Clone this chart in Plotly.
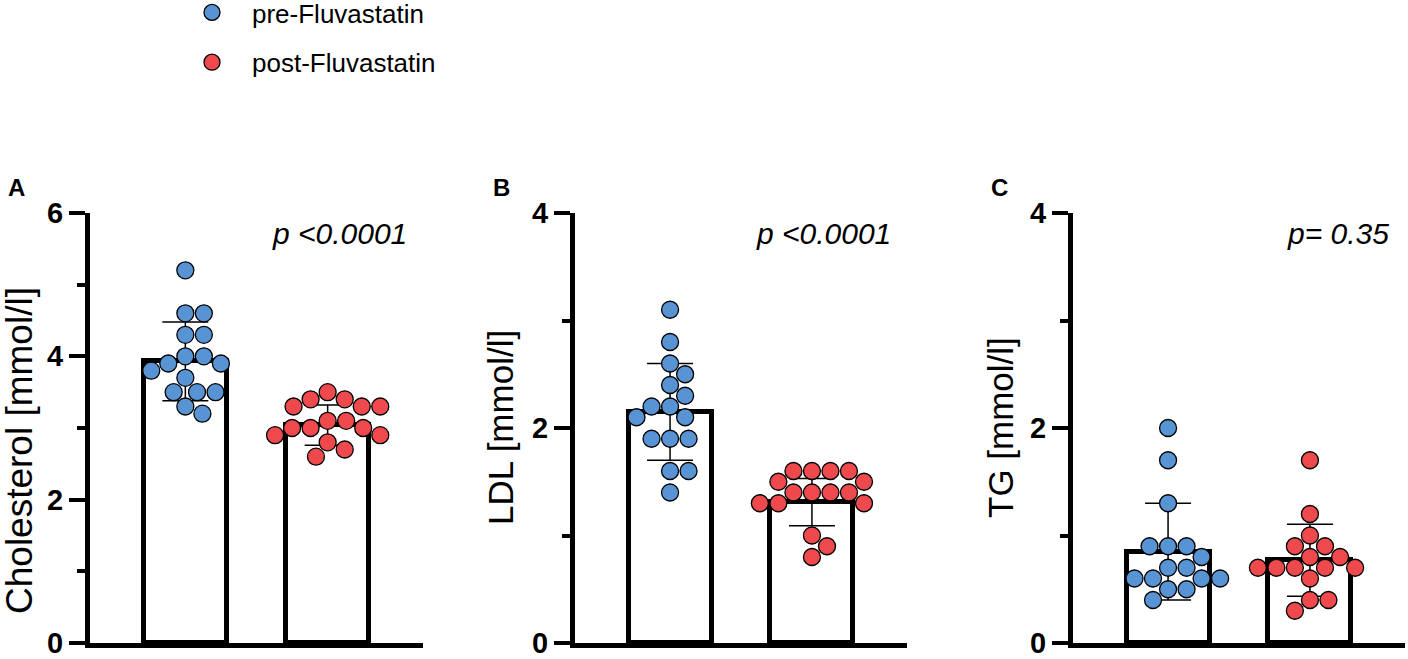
import plotly.graph_objects as go

# Values (mmol/l), 16 subjects per group
groups = ['pre-Fluvastatin', 'post-Fluvastatin']

chol_pre = [5.2, 4.6, 4.6, 4.3, 4.3, 4.0, 4.0, 3.9, 3.9, 3.8, 3.7, 3.5, 3.5, 3.5, 3.3, 3.2]
chol_post = [3.5, 3.4, 3.4, 3.3, 3.3, 3.3, 3.1, 3.1, 3.0, 3.0, 3.0, 2.9, 2.9, 2.8, 2.7, 2.6]
ldl_pre = [3.1, 2.8, 2.6, 2.5, 2.4, 2.3, 2.2, 2.2, 2.1, 2.1, 1.9, 1.9, 1.9, 1.6, 1.6, 1.4]
ldl_post = [1.6, 1.6, 1.6, 1.6, 1.5, 1.5, 1.4, 1.4, 1.4, 1.4, 1.3, 1.3, 1.3, 1.0, 0.9, 0.8]
tg_pre = [2.0, 1.7, 1.3, 0.9, 0.9, 0.9, 0.8, 0.7, 0.7, 0.6, 0.6, 0.6, 0.6, 0.5, 0.5, 0.4]
tg_post = [1.7, 1.2, 1.0, 0.9, 0.9, 0.8, 0.8, 0.7, 0.7, 0.7, 0.7, 0.7, 0.6, 0.4, 0.4, 0.3]

# bar heights (mean) and error bars (SD) as drawn
chol_mean = [3.93, 3.04]
chol_sd = [0.55, 0.28]
ldl_mean = [2.15, 1.31]
ldl_sd = [0.45, 0.22]
tg_mean = [0.85, 0.77]
tg_sd = [0.45, 0.335]

panel_letters = ['A', 'B', 'C']
y_titles = ['Cholesterol [mmol/l]', 'LDL [mmol/l]', 'TG [mmol/l]']
y_max = [6, 4, 4]
p_texts = ['p <0.0001', 'p <0.0001', 'p= 0.35']

W, H = 1408, 659
BLUE = '#5893D3'
RED = '#EE4A4E'
FONT = 'Liberation Sans, Arial, sans-serif'

x_domains = [[90 / W, 423 / W], [575 / W, 907 / W], [1073 / W, 1405 / W]]
y_domain = [(H - 643) / H, (H - 213) / H]
x_range = [-0.67, 1.67]
DIAM = 18.5


def swarm(values, px_per_y, px_per_x, diam=DIAM):
    """Simple beeswarm: put each point as close to the centre as it fits"""
    placed = []
    offsets = []
    for v in values:
        y = v * px_per_y
        cands = [0.0]
        for px, py in placed:
            dy = y - py
            if abs(dy) < diam:
                dx = (diam ** 2 - dy ** 2) ** 0.5
                cands += [px + dx, px - dx]
        cands.sort(key=abs)
        pick = 0.0
        for c in cands:
            if all((c - px) ** 2 + (y - py) ** 2 >= diam ** 2 - 1e-6 for px, py in placed):
                pick = c
                break
        placed.append((pick, y))
        offsets.append(pick / px_per_x)
    return offsets


panels = [
    (chol_pre, chol_post, chol_mean, chol_sd),
    (ldl_pre, ldl_post, ldl_mean, ldl_sd),
    (tg_pre, tg_post, tg_mean, tg_sd),
]

fig = go.Figure()
layout = {}
annotations = []

for i, (pre, post, means, sds) in enumerate(panels):
    sfx = '' if i == 0 else str(i + 1)
    xa, ya = 'x' + sfx, 'y' + sfx
    dom = x_domains[i]
    px_per_x = (dom[1] - dom[0]) * W / (x_range[1] - x_range[0])
    px_per_y = (y_domain[1] - y_domain[0]) * H / y_max[i]

    fig.add_trace(go.Bar(
        x=[0, 1], y=means, width=0.585,
        marker=dict(color='white', line=dict(color='black', width=5)),
        error_y=dict(type='data', array=sds, color='black', thickness=1.5, width=23),
        xaxis=xa, yaxis=ya, showlegend=False, hoverinfo='skip'
    ))
    for g, (vals, col) in enumerate([(pre, BLUE), (post, RED)]):
        offs = swarm(vals, px_per_y, px_per_x)
        fig.add_trace(go.Scatter(
            x=[g + o for o in offs], y=vals, mode='markers',
            name=groups[g], legendgroup=groups[g], showlegend=(i == 0),
            marker=dict(size=17, color=col, line=dict(color='black', width=1.3)),
            xaxis=xa, yaxis=ya, cliponaxis=False
        ))

    layout['xaxis' + sfx] = dict(
        domain=dom, range=x_range, anchor=ya, automargin=False,
        showline=True, linewidth=5, linecolor='black',
        showticklabels=False, ticks='', showgrid=False, zeroline=False, fixedrange=True
    )
    layout['yaxis' + sfx] = dict(
        domain=y_domain, range=[0, y_max[i]], anchor=xa, automargin=False,
        showline=True, linewidth=5, linecolor='black',
        tickmode='linear', tick0=0, dtick=2, ticklabeloverflow='allow',
        ticks='outside', ticklen=16, tickwidth=4, tickcolor='black',
        minor=dict(dtick=1, ticks='outside', ticklen=8, tickwidth=4, tickcolor='black', showgrid=False),
        tickfont=dict(family=FONT, size=29, color='black', weight='bold'),
        showgrid=False, zeroline=False, fixedrange=True
    )

    # p value, top right of each panel
    annotations.append(dict(
        text=p_texts[i], xref='paper', yref='paper',
        x=dom[1] - 14 / W, y=(H - 233) / H, xanchor='right', yanchor='middle',
        showarrow=False, font=dict(family=FONT, size=30, color='black', style='italic')
    ))
    # panel letter
    annotations.append(dict(
        text=panel_letters[i], xref='paper', yref='paper',
        x=dom[0] - 84 / W, y=(H - 187) / H, xanchor='left', yanchor='middle',
        showarrow=False, font=dict(family=FONT, size=24, color='black', weight='bold')
    ))

# y axis titles
title_pos = [(19, 451, 37), (501, 428, 35), (1001, 428, 35)]
for (tx, ty, ts), txt in zip(title_pos, y_titles):
    annotations.append(dict(
        text=txt, xref='paper', yref='paper', x=tx / W, y=(H - ty) / H,
        xanchor='center', yanchor='middle', textangle=-90, showarrow=False,
        font=dict(family=FONT, size=ts, color='black')
    ))

fig.update_layout(
    **layout,
    annotations=annotations,
    width=W, height=H,
    margin=dict(l=0, r=0, t=0, b=0, autoexpand=False),
    paper_bgcolor='white', plot_bgcolor='white',
    font=dict(family=FONT, color='black'),
    showlegend=True,
    legend=dict(
        x=172 / W, y=1 + 11 / H, xanchor='left', yanchor='top',
        font=dict(family=FONT, size=26, color='black'),
        traceorder='grouped', tracegroupgap=13, itemwidth=70,
        bgcolor='rgba(0,0,0,0)', borderwidth=0
    ),
    bargap=0
)

# drop the default page margin so the figure sits at the window's corner
fig.write_html("out.html", config={'displayModeBar': False},
               post_script="document.body.style.margin='0';")
